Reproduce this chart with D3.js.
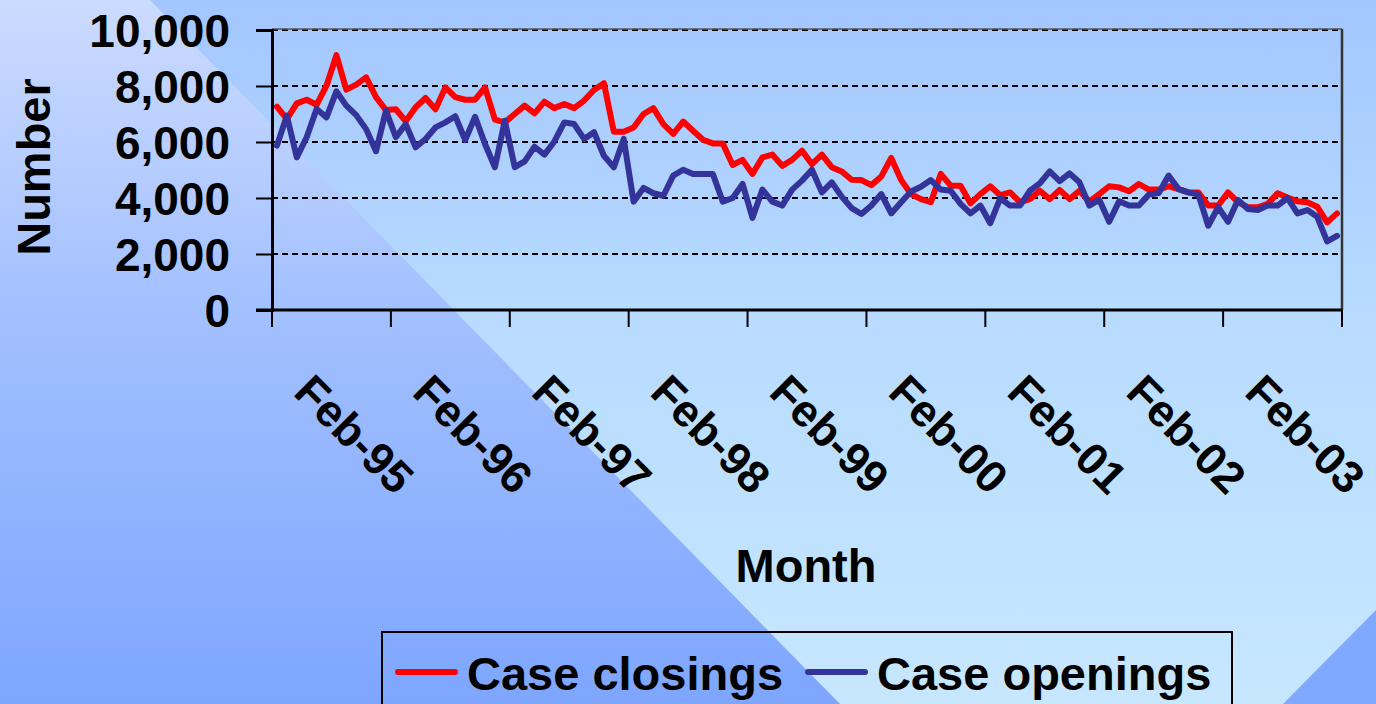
<!DOCTYPE html>
<html>
<head>
<meta charset="utf-8">
<script src="https://cdn.jsdelivr.net/npm/d3@7"></script>
<style>
  html, body { margin: 0; padding: 0; background: #b8d8ff; }
  svg { display: block; }
  text { font-family: "Liberation Sans", Arial, sans-serif; font-weight: bold; fill: #000; }
</style>
</head>
<body>
<svg id="chart" width="1376" height="704"></svg>
<script>
// ---- data ----
const startMonth = new Date(1995, 1, 1); // Feb-95, 108 monthly categories
const categories = d3.timeMonth.range(startMonth, new Date(2004, 1, 1));

const caseClosings = [
  7260, 6820, 7380, 7510, 7330, 8010, 9100, 7870, 8050, 8310, 7600, 7140,
  7170, 6740, 7240, 7570, 7170, 7950, 7600, 7510, 7510, 7950, 6800, 6700,
  7000, 7300, 7020, 7440, 7210, 7360, 7210, 7480, 7860, 8100, 6370, 6370,
  6520, 7000, 7210, 6640, 6290, 6730, 6400, 6080, 5950, 5950, 5180, 5360,
  4860, 5450, 5550, 5150, 5360, 5690, 5210, 5550, 5100, 4950, 4650, 4640,
  4460, 4770, 5430, 4640, 4140, 3960, 3850, 4860, 4440, 4440, 3810, 4140,
  4420, 4100, 4200, 3850, 3960, 4260, 3960, 4290, 3960, 4260, 3870, 4140,
  4420, 4380, 4240, 4500, 4300, 4300, 4420, 4320, 4200, 4200, 3730, 3730,
  4200, 3850, 3670, 3670, 3790, 4170, 4020, 3880, 3850, 3690, 3130, 3450
];
const caseOpenings = [
  5870, 6940, 5450, 6170, 7180, 6880, 7810, 7300, 6960, 6460, 5670, 7120,
  6170, 6640, 5810, 6110, 6520, 6700, 6920, 6070, 6900, 5930, 5100, 6760,
  5100, 5310, 5830, 5550, 6020, 6700, 6640, 6110, 6350, 5510, 5100, 6110,
  3870, 4360, 4170, 4080, 4800, 5010, 4860, 4860, 4860, 3870, 4000, 4500,
  3290, 4300, 3870, 3730, 4300, 4620, 5010, 4200, 4560, 4050, 3640, 3430,
  3730, 4140, 3450, 3850, 4230, 4400, 4640, 4300, 4260, 3790, 3450, 3730,
  3100, 3990, 3730, 3730, 4260, 4520, 4950, 4600, 4880, 4560, 3730, 3940,
  3150, 3880, 3730, 3730, 4120, 4180, 4800, 4320, 4200, 4120, 3010, 3670,
  3150, 3930, 3610, 3570, 3730, 3730, 4000, 3450, 3570, 3330, 2450, 2650
];
const yTicks = [0, 2000, 4000, 6000, 8000, 10000];
const tickLabels = ["Feb-95","Feb-96","Feb-97","Feb-98","Feb-99","Feb-00","Feb-01","Feb-02","Feb-03"];
const seriesNames = ["Case closings", "Case openings"];
const seriesColors = ["#ff0000", "#333399"];

// ---- layout ----
const svg = d3.select("#chart");
const W = 1376, H = 704;
const plot = { left: 272, right: 1342, top: 30, bottom: 310 };

// ---- background ----
const defs = svg.append("defs");
const gl = defs.append("linearGradient").attr("id", "gLeft").attr("x1", 0).attr("y1", 0).attr("x2", 0).attr("y2", 1);
gl.append("stop").attr("offset", "0%").attr("stop-color", "#ccdbff");
gl.append("stop").attr("offset", "45%").attr("stop-color", "#a2c0ff");
gl.append("stop").attr("offset", "100%").attr("stop-color", "#7ea6ff");
const gr = defs.append("linearGradient").attr("id", "gRight").attr("x1", 0).attr("y1", 0).attr("x2", 0).attr("y2", 1);
gr.append("stop").attr("offset", "0%").attr("stop-color", "#a3c6ff");
gr.append("stop").attr("offset", "45%").attr("stop-color", "#b8dbff");
gr.append("stop").attr("offset", "100%").attr("stop-color", "#c7e7ff");

svg.append("rect").attr("x", 0).attr("y", 0).attr("width", W).attr("height", H).attr("fill", "url(#gRight)");
svg.append("path").attr("d", `M0,0 L150,0 L840,${H} L0,${H} Z`).attr("fill", "url(#gLeft)");
svg.append("path").attr("d", `M${W},610 L${W},${H} L1283,${H} Z`).attr("fill", "#80a8ff");

// ---- scales ----
const x = d3.scaleBand().domain(d3.range(categories.length)).range([plot.left, plot.right]).padding(0);
const xc = i => x(i) + x.bandwidth() / 2;
const y = d3.scaleLinear().domain([0, 10000]).range([plot.bottom, plot.top]);

// gridlines
svg.append("g").selectAll("line").data(yTicks.filter(v => v > 0)).join("line")
  .attr("x1", plot.left).attr("x2", plot.right)
  .attr("y1", d => y(d)).attr("y2", d => y(d))
  .attr("stroke", "#000").attr("stroke-width", 2).attr("stroke-dasharray", "6,4");

// plot frame top/right
svg.append("line").attr("x1", plot.left).attr("x2", plot.right).attr("y1", plot.top - 1).attr("y2", plot.top - 1)
  .attr("stroke", "#555").attr("stroke-width", 1.5);
svg.append("line").attr("x1", plot.right).attr("x2", plot.right).attr("y1", plot.top - 1).attr("y2", plot.bottom)
  .attr("stroke", "#333").attr("stroke-width", 2.5);

// y axis
const yAxis = d3.axisLeft(y).tickValues(yTicks).tickSize(16).tickFormat(d3.format(","));
const gy = svg.append("g").attr("transform", `translate(${plot.left},0)`).call(yAxis);
gy.select(".domain").attr("stroke", "#000").attr("stroke-width", 3);
gy.selectAll(".tick line").attr("stroke", "#000").attr("stroke-width", 2);
gy.selectAll(".tick text").attr("x", -42).attr("dy", "0.36em")
  .style("font-size", "46px").style("font-family", '"Liberation Sans", Arial, sans-serif').style("font-weight", "bold").attr("fill", "#000");

// x axis line and ticks
svg.append("line").attr("x1", plot.left - 16).attr("x2", plot.right).attr("y1", plot.bottom).attr("y2", plot.bottom)
  .attr("stroke", "#000").attr("stroke-width", 3);
const tickIdx = d3.range(0, categories.length + 1, 12);
svg.append("g").selectAll("line").data(tickIdx).join("line")
  .attr("x1", d => d < categories.length ? x(d) : plot.right)
  .attr("x2", d => d < categories.length ? x(d) : plot.right)
  .attr("y1", plot.bottom).attr("y2", plot.bottom + 17)
  .attr("stroke", "#000").attr("stroke-width", 2);

// x tick labels
svg.append("g").selectAll("text").data(tickLabels).join("text")
  .attr("transform", (d, k) => `translate(${xc(k * 12) + 15},394) rotate(45)`)
  .attr("text-anchor", "start")
  .style("font-size", "45px")
  .text(d => d);

// axis titles
svg.append("text").attr("transform", "translate(50,167) rotate(-90)").attr("text-anchor", "middle")
  .style("font-size", "47px").text("Number");
svg.append("text").attr("x", 806).attr("y", 582).attr("text-anchor", "middle")
  .style("font-size", "47px").text("Month");

// series lines
const line = d3.line().x((d, i) => xc(i)).y(d => y(d));
[caseClosings, caseOpenings].forEach((s, k) => {
  svg.append("path").datum(s).attr("d", line)
    .attr("fill", "none").attr("stroke", seriesColors[k]).attr("stroke-width", 6)
    .attr("stroke-linejoin", "round").attr("stroke-linecap", "round");
});

// legend
const lg = svg.append("g");
lg.append("rect").attr("x", 382).attr("y", 632).attr("width", 850).attr("height", 100)
  .attr("fill", "none").attr("stroke", "#000").attr("stroke-width", 2);
const legendX = [398, 808];
seriesNames.forEach((n, k) => {
  lg.append("line").attr("x1", legendX[k]).attr("x2", legendX[k] + 57).attr("y1", 672).attr("y2", 672)
    .attr("stroke", seriesColors[k]).attr("stroke-width", 6).attr("stroke-linecap", "round");
  lg.append("text").attr("x", legendX[k] + 69).attr("y", 690).style("font-size", "47px").text(n);
});
</script>
</body>
</html>
